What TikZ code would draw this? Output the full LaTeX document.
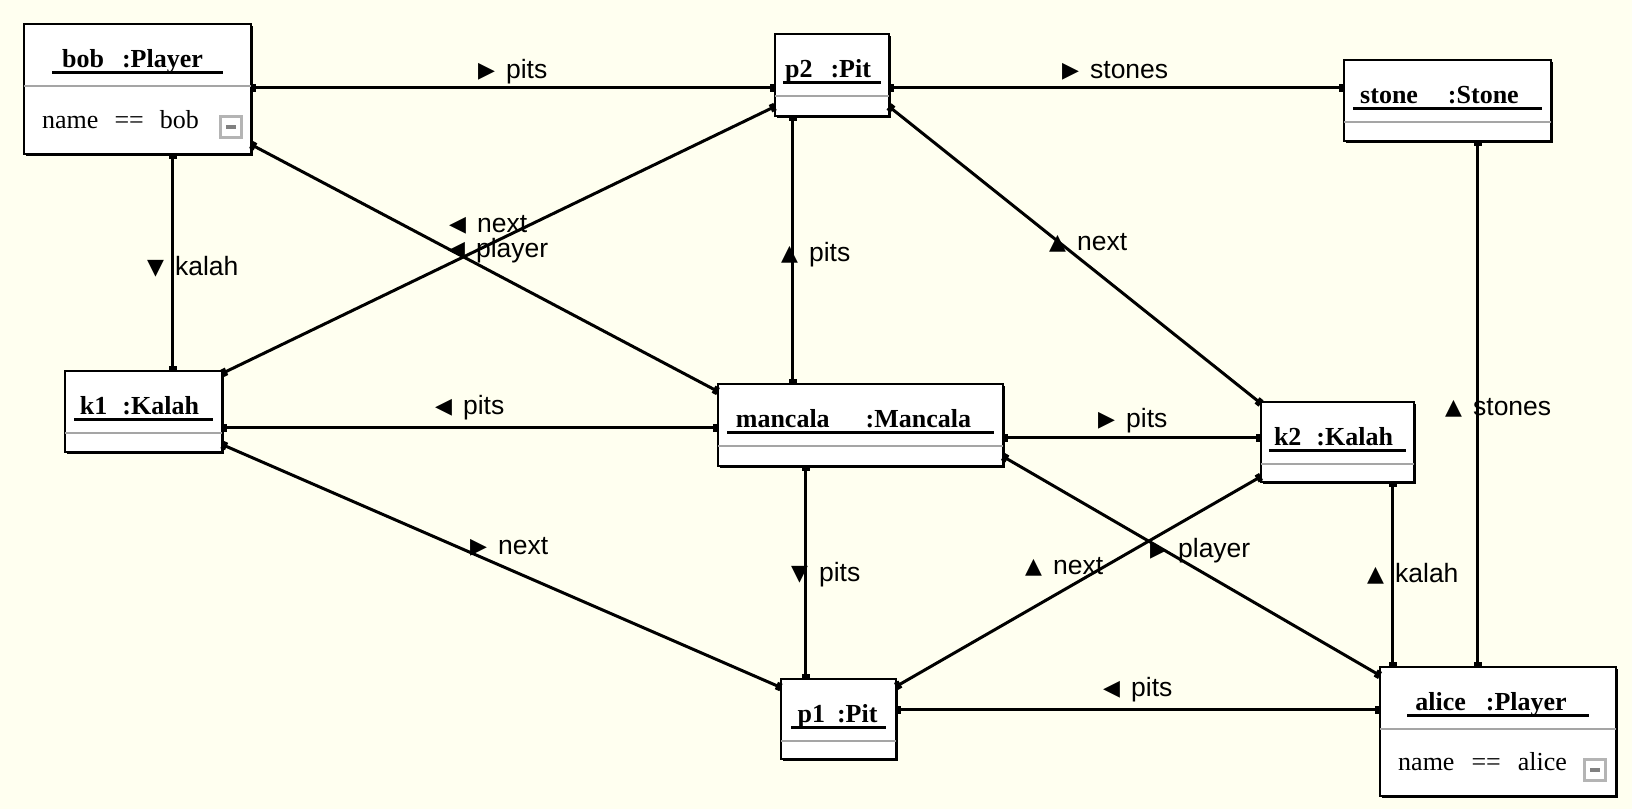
\documentclass[tikz,border=0pt]{standalone}
\usepackage{fontspec}
\setmainfont{Liberation Serif}
\newfontfamily\lblfont{Liberation Sans}
\newfontfamily\symfont{DejaVu Sans}
\usetikzlibrary{arrows.meta,positioning,shadows}
\definecolor{paper}{RGB}{255,255,240}
\definecolor{sepgray}{RGB}{165,165,165}
\definecolor{icongray}{RGB}{180,180,180}
\newcommand{\tri}[1]{{\symfont\fontsize{22}{22}\selectfont\raisebox{0.5pt}{#1}}\hspace{11pt}}

\begin{document}
\begin{tikzpicture}[x=1pt, y=-1pt,
        obj/.style={draw, line width=2pt, fill=white, inner sep=0pt, outer sep=0pt,
          anchor=north west,
          drop shadow={shadow xshift=2.2pt, shadow yshift=-2.2pt, opacity=1, fill=black}},
        title/.style={anchor=base, inner sep=0pt, font=\fontsize{26}{30}\selectfont\bfseries},
        attr/.style={anchor=base west, inner sep=0pt, font=\fontsize{26}{30}\selectfont},
        uline/.style={line width=3pt},
        sepline/.style={sepgray, line width=1.5pt},
        minus/.style={draw=icongray, line width=2.8pt, minimum size=21pt, inner sep=0pt},
        link/.style={line width=3pt, {Square[length=5pt,width=8pt]}-{Square[length=5pt,width=8pt]}},
        lbl/.style={anchor=base west, inner sep=0pt, font=\lblfont\fontsize{26.5}{30}\selectfont}
        ]
        \fill[paper] (0,0) rectangle (1632,809);

        % objects
        \node[obj, minimum width=227, minimum height=130] (bob) at (24,24) {};
        \node[obj, minimum width=114, minimum height=82] (p2) at (775,34) {};
        \node[obj, minimum width=207, minimum height=81] (stone) at (1344,60) {};
        \node[obj, minimum width=157, minimum height=81] (k1) at (65,371) {};
        \node[obj, minimum width=285, minimum height=82] (mancala) at (718,384) {};
        \node[obj, minimum width=153, minimum height=80] (k2) at (1261,402) {};
        \node[obj, minimum width=115, minimum height=80] (p1) at (781,679) {};
        \node[obj, minimum width=236, minimum height=129] (alice) at (1380,667) {};

        \node[title, xshift=-5pt, yshift=-43pt] (bobt) at (bob.north) {bob\hspace{18pt}:Player};
        \node[title, xshift=-4pt, yshift=-43pt] (p2t) at (p2.north) {p2\hspace{18pt}:Pit};
        \node[title, xshift=-8pt, yshift=-43pt] (stonet) at (stone.north) {stone\hspace{30pt}:Stone};
        \node[title, xshift=-4pt, yshift=-43pt] (k1t) at (k1.north) {k1\hspace{15pt}:Kalah};
        \node[title, xshift=-7pt, yshift=-43pt] (mancalat) at (mancala.north) {mancala\hspace{36pt}:Mancala};
        \node[title, xshift=-4pt, yshift=-43pt] (k2t) at (k2.north) {k2\hspace{15pt}:Kalah};
        \node[title, xshift=-1pt, yshift=-43pt] (p1t) at (p1.north) {p1\hspace{12pt}:Pit};
        \node[title, xshift=-7pt, yshift=-43pt] (alicet) at (alice.north) {alice\hspace{20pt}:Player};

        \foreach \n/\u in {bob/28, p2/8, stone/9, k1/9, mancala/9, k2/8, p1/10, alice/27}{
          \draw[uline] ([xshift=\u, yshift=-48pt]\n.north west) -- ([xshift=-\u, yshift=-48pt]\n.north east);
          \draw[sepline] ([yshift=-62pt]\n.north west) -- ([yshift=-62pt]\n.north east);
        }

        \node[attr, xshift=18pt, yshift=-104pt] (boba) at (bob.north west) {name\hspace{16pt}==\hspace{16pt}bob};
        \node[attr, xshift=18pt, yshift=-103pt] (alicea) at (alice.north west) {name\hspace{17pt}==\hspace{17pt}alice};
        \node[minus, xshift=-20pt, yshift=-103pt] (bobm) at (bob.north east) {\textcolor{gray}{\rule{10pt}{4pt}}};
        \node[minus, xshift=-21pt, yshift=-103pt] (alicem) at (alice.north east) {\textcolor{gray}{\rule{10pt}{4pt}}};

        % links
        \draw[link] ([yshift=1.5pt]bob.east) -- ([yshift=-12.5pt]p2.west);
        \draw[link] ([yshift=-12.5pt]p2.east) -- ([yshift=13pt]stone.west);
        \draw[link] ([xshift=35pt]bob.south) -- ([xshift=29pt]k1.north);
        \draw[link] ([yshift=-55.5pt]bob.east) -- ([yshift=33.5pt]mancala.west);
        \draw[link] ([yshift=38pt]k1.east) -- ([yshift=-31.5pt]p2.west);
        \draw[link] ([xshift=-39.5pt]p2.south) -- ([xshift=-68pt]mancala.north);
        \draw[link] ([yshift=-31.5pt]p2.east) -- ([yshift=38.5pt]k2.west);
        \draw[link] ([xshift=30pt]stone.south) -- ([xshift=-20.5pt]alice.north);
        \draw[link] ([yshift=-16pt]k1.east) -- ([yshift=-2.5pt]mancala.west);
        \draw[link] ([yshift=-12.5pt]mancala.east) -- ([yshift=4.5pt]k2.west);
        \draw[link] ([yshift=-33pt]k1.east) -- ([yshift=31.5pt]p1.west);
        \draw[link] ([xshift=-55pt]mancala.south) -- ([xshift=-33pt]p1.north);
        \draw[link] ([yshift=-31.5pt]mancala.east) -- ([yshift=56pt]alice.west);
        \draw[link] ([yshift=32.5pt]p1.east) -- ([yshift=-34.5pt]k2.west);
        \draw[link] ([xshift=55pt]k2.south) -- ([xshift=-105.5pt]alice.north);
        \draw[link] ([yshift=9.5pt]p1.east) -- ([yshift=22pt]alice.west);

        % link labels
        \node[lbl] (lbobp2) at (478,78) {\tri{▶}pits};
        \node[lbl] (lp2stone) at (1062,78) {\tri{▶}stones};
        \node[lbl] (lbobk1) at (147,275) {\tri{▼}kalah};
        \node[lbl] (lk1p2) at (449,232) {\tri{◀}next};
        \node[lbl] (lbobman) at (448,257) {\tri{◀}player};
        \node[lbl] (lp2man) at (781,261) {\tri{▲}pits};
        \node[lbl] (lp2k2) at (1049,250) {\tri{▲}next};
        \node[lbl] (lstonealice) at (1445,415) {\tri{▲}stones};
        \node[lbl] (lk1man) at (435,414) {\tri{◀}pits};
        \node[lbl] (lmank2) at (1098,427) {\tri{▶}pits};
        \node[lbl] (lk1p1) at (470,554) {\tri{▶}next};
        \node[lbl] (lmanp1) at (791,581) {\tri{▼}pits};
        \node[lbl] (lmanalice) at (1150,557) {\tri{▶}player};
        \node[lbl] (lp1k2) at (1025,574) {\tri{▲}next};
        \node[lbl] (lk2alice) at (1367,582) {\tri{▲}kalah};
        \node[lbl] (lp1alice) at (1103,696) {\tri{◀}pits};
      \end{tikzpicture}
\end{document}
